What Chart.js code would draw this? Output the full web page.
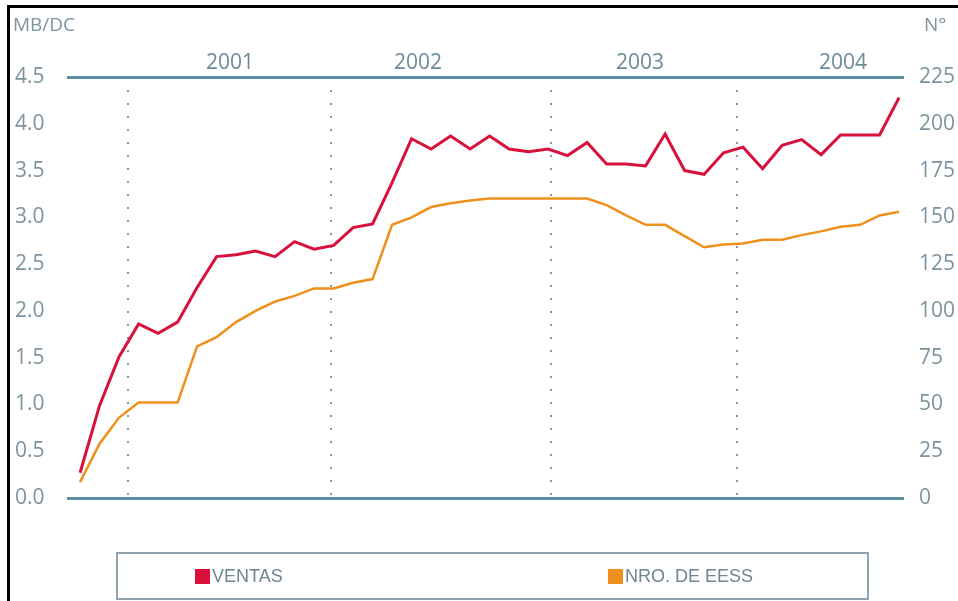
<!DOCTYPE html>
<html>
<head>
<meta charset="utf-8">
<script src="https://cdn.jsdelivr.net/npm/chart.js@4"></script>
<style>
body{margin:0;background:#fff;}
#wrap{position:relative;width:958px;height:601px;overflow:hidden;}
#frame{position:absolute;left:7px;top:5px;width:1000px;height:700px;border:3px solid #000;}
#chartBox{position:absolute;left:0;top:0;width:958px;height:601px;}
.unit{position:absolute;top:11px;font:19px "Open Sans";color:#7d93a0;}
#legend{position:absolute;left:116px;top:552px;width:749px;height:44px;border:2px solid #8fa3ae;}
.item{position:absolute;top:13px;font:18px "Liberation Sans";color:#6f8591;line-height:18px;white-space:nowrap;}
.item i{display:inline-block;width:15px;height:15px;margin-right:2px;vertical-align:-2px;}
</style>
</head>
<body>
<div id="wrap">
  <div id="frame"></div>
  <div id="chartBox"><canvas id="grafico"></canvas></div>
  <div class="unit" style="left:13px">MB/DC</div>
  <div class="unit" style="left:924px">N°</div>
  <div id="legend"></div>
</div>
<script>
// ventas (MB/DC, eje izquierdo) y número de estaciones (eje derecho)
const ventas = [0.27,0.99,1.51,1.86,1.76,1.88,2.25,2.58,2.60,2.64,2.58,2.74,2.66,2.70,2.89,2.93,
  3.37,3.84,3.73,3.87,3.73,3.87,3.73,3.70,3.73,3.66,3.80,3.57,3.57,3.55,3.89,3.50,3.46,3.69,
  3.75,3.52,3.77,3.83,3.67,3.88,3.88,3.88,4.28];
const eess = [8.5,29,43,51,51,51,81,86,94,100,105,108,112,112,115,117,
  146,150,155.5,157.5,159,160,160,160,160,160,160,156.5,151,146,146,140,134,135.5,
  136,138,138,140.5,142.5,145,146,151,153];

const yearLabels = ["2001","2002","2003","2004"];
const yearCenters = [7.69,17.33,28.71,39.12];
const yearBreaks = [2.46,12.87,24.15,33.69];

const seriesNames = ["VENTAS","NRO. DE EESS"];
const seriesColors = ["#d8113c","#f0901c"];
const legendLeft = [77,490];

Chart.defaults.font.family = "Open Sans";

const axisColor = "#5d8ea2";
const tickColor = "#7d93a0";

function points(arr){
  return arr.map((v,i)=>({x:i,y:v}));
}

new Chart(document.getElementById("grafico"),{
  type:"line",
  data:{
    datasets:[
      {label:seriesNames[0],data:points(ventas),borderColor:seriesColors[0],borderWidth:3,yAxisID:"y",xAxisID:"x"},
      {label:seriesNames[1],data:points(eess),borderColor:seriesColors[1],borderWidth:2.5,yAxisID:"y1",xAxisID:"x"}
    ]
  },
  options:{
    responsive:true,
    maintainAspectRatio:false,
    animation:false,
    layout:{padding:{left:15,top:0,right:0,bottom:0}},
    elements:{point:{radius:0},line:{tension:0}},
    plugins:{legend:{display:false},tooltip:{enabled:false}},
    scales:{
      x:{
        type:"linear",position:"bottom",min:-0.62,max:42.2,
        afterBuildTicks:s=>{s.ticks=yearBreaks.map(v=>({value:v}));},
        afterFit:s=>{s.height=103;},
        ticks:{display:false},
        grid:{color:"#8a969e",lineWidth:2,drawTicks:false},
        border:{display:true,color:axisColor,width:3,dash:[2,11]}
      },
      xTop:{
        type:"linear",position:"top",min:-0.62,max:42.2,
        afterBuildTicks:s=>{s.ticks=yearCenters.map(v=>({value:v}));},
        afterFit:s=>{s.height=77;},
        ticks:{callback:(v,i)=>yearLabels[i],color:"#6d8a99",font:{size:21},padding:1,maxRotation:0,autoSkip:false},
        grid:{display:false,drawTicks:false},
        border:{display:true,color:axisColor,width:3}
      },
      y:{
        position:"left",min:0,max:4.5,
        afterFit:s=>{s.width=53;},
        ticks:{stepSize:0.5,callback:v=>v.toFixed(1),crossAlign:"far",color:tickColor,font:{size:21}},
        grid:{display:false,drawTicks:false},
        border:{display:false}
      },
      y1:{
        position:"right",min:0,max:225,
        afterFit:s=>{s.width=55;},
        ticks:{stepSize:25,padding:16,color:tickColor,font:{size:21}},
        grid:{display:false,drawTicks:false},
        border:{display:false}
      }
    }
  }
});

// leyenda inferior
const legend = document.getElementById("legend");
seriesNames.forEach((name,i)=>{
  const item = document.createElement("div");
  item.className = "item";
  item.style.left = legendLeft[i]+"px";
  item.innerHTML = '<i style="background:'+seriesColors[i]+'"></i>'+name;
  legend.appendChild(item);
});
</script>
</body>
</html>
